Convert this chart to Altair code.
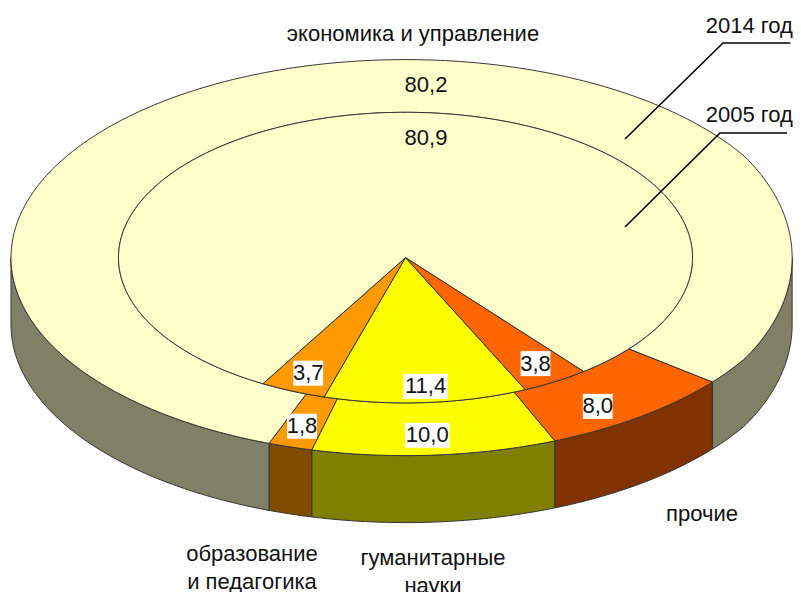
import math
import altair as alt
import pandas as pd

# ---- chart values ----
categories = ["гуманитарные науки", "образование и педагогика", "экономика и управление", "прочие"]
values_2014 = [10.0, 1.8, 80.2, 8.0]
values_2005 = [11.4, 3.7, 80.9, 3.8]
tops = ["#FFFF00", "#FF9900", "#FFFFCC", "#FF6600"]
walls = ["#808000", "#804C00", "#808066", "#803300"]

# ---- geometry of the projected ring (style, not data) ----
CX, CY = 405.5, 257.6
OUT_RX, OUT_RY = 394.5, 198.0
IN_RX, IN_RY = 287.0, 145.3
DEPTH = 67.0
START_2014, START_2005 = 6.18, 6.85
LINE = "#333333"
FONT = "Liberation Sans"
SIZE = 22


def pt(pct, rx, ry, dy=0.0):
    t = pct / 100 * 2 * math.pi
    return CX + rx * math.sin(t), CY + ry * math.cos(t) + dy


def arc(a, b, rx, ry, dy=0.0):
    n = max(2, int(abs(b - a) * 5))
    return [pt(a + (b - a) * i / n, rx, ry, dy) for i in range(n + 1)]


def spans(vals, start):
    total = sum(vals)
    out, cur = [], start
    for v in vals:
        nxt = cur - v * 100 / total
        out.append((cur, nxt))
        cur = nxt
    return out


sp14 = spans(values_2014, START_2014)
sp05 = spans(values_2005, START_2005)

sx = alt.Scale(domain=[8, 745, 801], range=[0, 737, 785])
sy = alt.Scale(domain=[8, 592], range=[0, 584])
xs = alt.X("x:Q", scale=sx, axis=None)
ys = alt.Y("y:Q", scale=sy, axis=None)


def poly(points, fill):
    df = pd.DataFrame({"x": [p[0] for p in points], "y": [p[1] for p in points], "i": range(len(points))})
    return alt.Chart(df).mark_line(
        fill=fill, stroke=LINE, strokeWidth=1.0, interpolate="linear-closed", clip=False
    ).encode(x=xs, y=ys, order="i:Q")


layers = []

# side wall: only the part of each sector facing the viewer (-25%..25%)
for (a, b), col in zip(sp14, walls):
    pieces = []
    for lo, hi in [(a, b), (a + 100, b + 100), (a - 100, b - 100)]:
        h, l = max(lo, hi), min(lo, hi)
        h2, l2 = min(h, 25.0), max(l, -25.0)
        if h2 > l2:
            pieces.append((h2, l2))
    for h2, l2 in pieces:
        top = arc(h2, l2, OUT_RX, OUT_RY)
        bot = arc(l2, h2, OUT_RX, OUT_RY, DEPTH)
        layers.append(poly(top + bot, col))

# outer ring, 2014
for (a, b), col in zip(sp14, tops):
    layers.append(poly(arc(a, b, OUT_RX, OUT_RY) + arc(b, a, IN_RX, IN_RY), col))

# inner pie, 2005
for (a, b), col in zip(sp05, tops):
    layers.append(poly([(CX, CY)] + arc(a, b, IN_RX, IN_RY), col))

# value labels, with offsets from the automatic position
label_rows = []
offs14 = [(-4, 4), (-2, 2), (0, 0), (-15, 9)]
offs05 = [(2, 1), (2, -2), (0, 0), (-2, -3)]
for vals, sp, rx, ry, offs in [(values_2014, sp14, OUT_RX, OUT_RY, offs14), (values_2005, sp05, IN_RX, IN_RY, offs05)]:
    for k, (v, (a, b), o) in enumerate(zip(vals, sp, offs)):
        if categories[k].startswith("экономика"):
            continue
        x, y = pt((a + b) / 2, rx * 0.88, ry * 0.88)
        label_rows.append({"x": x + o[0], "y": y + o[1], "t": f"{v:.1f}".replace(".", ",")})
labels = pd.DataFrame(label_rows)
half = labels.t.str.len() * 7.3 - 7
labels["x0"] = labels.x - half
labels["x1"] = labels.x + half
labels["y0"] = labels.y - 12.5
labels["y1"] = labels.y + 12.5
layers.append(
    alt.Chart(labels).mark_rect(fill="white", clip=False).encode(
        x=alt.X("x0:Q", scale=sx, axis=None), x2="x1:Q",
        y=alt.Y("y0:Q", scale=sy, axis=None), y2="y1:Q",
    )
)

text_rows = list(label_rows) + [
    {"x": 426, "y": 85, "t": f"{values_2014[2]:.1f}".replace(".", ",")},
    {"x": 426, "y": 138, "t": f"{values_2005[2]:.1f}".replace(".", ",")},
    {"x": 413, "y": 34, "t": "экономика и управление"},
    {"x": 750, "y": 26, "t": "2014 год"},
    {"x": 750, "y": 115, "t": "2005 год"},
    {"x": 702, "y": 514, "t": "прочие"},
    {"x": 252, "y": 554, "t": "образование"},
    {"x": 252, "y": 582, "t": "и педагогика"},
    {"x": 433, "y": 558, "t": "гуманитарные"},
    {"x": 433, "y": 586, "t": "науки"},
]
layers.append(
    alt.Chart(pd.DataFrame(text_rows)).mark_text(
        font=FONT, fontSize=SIZE, color="#111111", align="center", baseline="middle", clip=False
    ).encode(x=xs, y=ys, text="t:N")
)

# leader lines
for path in ([(625, 139), (723, 43), (798, 43)], [(625, 227), (720, 133), (794, 133)]):
    df = pd.DataFrame({"x": [p[0] for p in path], "y": [p[1] for p in path], "i": range(3)})
    layers.append(alt.Chart(df).mark_line(color="black", strokeWidth=1.6, clip=False).encode(x=xs, y=ys, order="i:Q"))

chart = alt.layer(*layers).properties(
    width=785, height=584, padding=0, autosize=alt.AutoSizeParams(type="none"),
).configure_view(stroke=None)

chart.save("out.html", embed_options={"renderer": "svg", "actions": False})
